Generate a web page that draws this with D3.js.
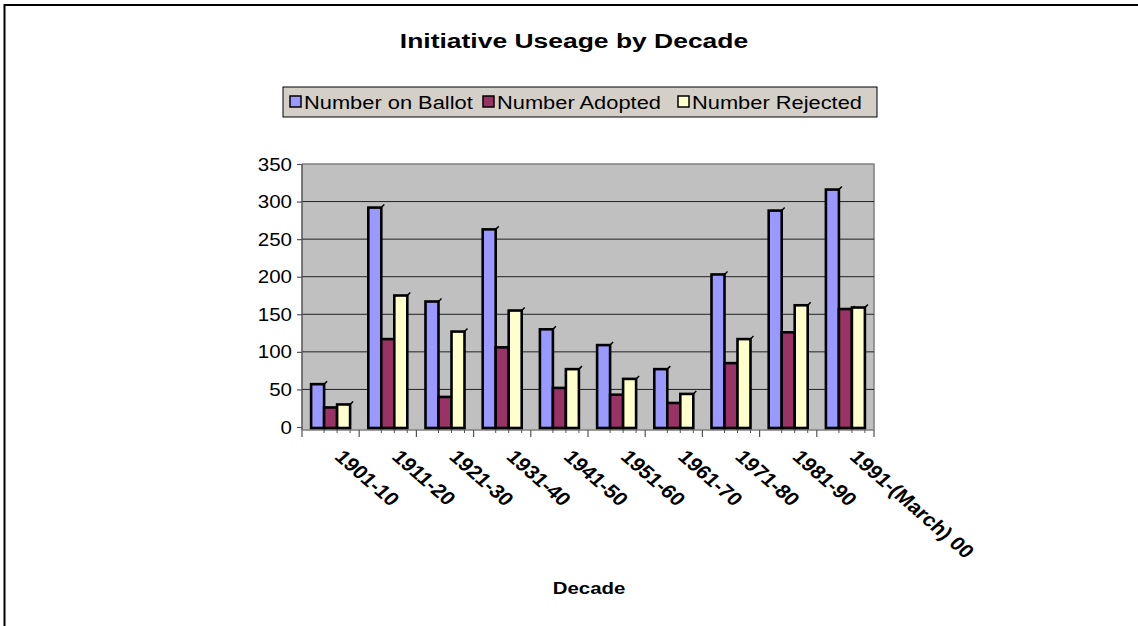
<!DOCTYPE html>
<html>
<head>
<meta charset="utf-8">
<script src="https://cdn.jsdelivr.net/npm/d3@7"></script>
<style>
  html, body { margin: 0; padding: 0; background: #fff; }
  svg { display: block; font-family: Arial, "Liberation Sans", sans-serif; }
</style>
</head>
<body>
<svg id="chart" width="1138" height="626"></svg>
<script>
// Initiative counts per decade
const categories = ["1901-10", "1911-20", "1921-30", "1931-40", "1941-50",
                    "1951-60", "1961-70", "1971-80", "1981-90", "1991-(March) 00"];
const seriesNames = ["Number on Ballot", "Number Adopted", "Number Rejected"];
const onBallot = [57, 292, 167, 263, 130, 109, 77, 203, 288, 316];
const adopted  = [26, 117, 40, 106, 52, 43, 32, 85, 126, 157];
const rejected = [30, 175, 127, 155, 77, 64, 44, 117, 162, 159];
const yTicks = [0, 50, 100, 150, 200, 250, 300, 350];
const seriesColors = ["#9999FF", "#993366", "#FFFFCC"];

const seriesValues = [onBallot, adopted, rejected];

const svg = d3.select("#chart");

// text is drawn slightly widened, as in the original sheet
function wideText(parent, px, py, sx, str, size, bold, anchor) {
  return parent.append("text")
    .attr("transform", `translate(${px},${py}) scale(${sx},1)`)
    .attr("text-anchor", anchor || "start")
    .attr("font-size", size)
    .attr("font-weight", bold ? "bold" : "normal")
    .text(str);
}

// outer frame (left and top edges)
svg.append("path")
  .attr("d", "M4.5,626 V5 H1138")
  .attr("fill", "none").attr("stroke", "#000").attr("stroke-width", 2);

// title
wideText(svg, 574, 48, 1.26, "Initiative Useage by Decade", 21, true, "middle");

// plot geometry
const plotL = 302, plotR = 874, plotT = 164, floorY = 430;
const x = d3.scaleBand().domain(categories).range([plotL, plotR]);
const y = d3.scaleLinear().domain([0, 350]).range([427, plotT]);
const groupW = 39;
const xs = d3.scaleBand().domain(seriesNames).range([0, groupW]);

// plot background
svg.append("rect")
  .attr("x", plotL).attr("y", plotT)
  .attr("width", plotR - plotL).attr("height", floorY - plotT)
  .attr("fill", "#C0C0C0");
svg.append("path")
  .attr("d", `M${plotL},${plotT} H${plotR} V${floorY}`)
  .attr("fill", "none").attr("stroke", "#808080").attr("stroke-width", 1.5);

// gridlines
svg.append("g").selectAll("line")
  .data(yTicks.filter(t => t > 0 && t < 350))
  .join("line")
  .attr("x1", plotL).attr("x2", plotR)
  .attr("y1", d => y(d)).attr("y2", d => y(d))
  .attr("stroke", "#222").attr("stroke-width", 1);

// floor front edge
svg.append("line")
  .attr("x1", plotL).attr("x2", plotR)
  .attr("y1", floorY).attr("y2", floorY)
  .attr("stroke", "#808080").attr("stroke-width", 1.5);

// y axis
const yAxis = d3.axisLeft(y).tickValues(yTicks).tickSize(5).tickFormat("");
const yg = svg.append("g").attr("transform", `translate(${plotL},0)`).call(yAxis);
yg.select(".domain").remove();
yg.append("line").attr("x1", 0).attr("x2", 0).attr("y1", plotT).attr("y2", floorY)
  .attr("stroke", "#555").attr("stroke-width", 1.5);
yg.selectAll(".tick line").attr("stroke", "#555").attr("stroke-width", 1.2);
yTicks.forEach(t => {
  wideText(svg, 292, y(t) + 6.5, 1.14, String(t), 18, false, "end");
});

// bars
const bars = svg.append("g");
categories.forEach((c, i) => {
  const gx = x(c) + (x.bandwidth() - groupW) / 2;
  seriesNames.forEach((s, j) => {
    const v = seriesValues[j][i];
    const bx = gx + xs(s);
    const bw = xs.bandwidth();
    const g = bars.append("g");
    g.append("rect")
      .attr("x", bx).attr("y", y(v))
      .attr("width", bw).attr("height", y(0) + 1 - y(v))
      .attr("fill", seriesColors[j])
      .attr("stroke", "#000").attr("stroke-width", 2.6);
    // depth edge at the top right corner
    g.append("line")
      .attr("x1", bx + bw).attr("y1", y(v))
      .attr("x2", bx + bw + 3).attr("y2", y(v) - 3)
      .attr("stroke", "#000").attr("stroke-width", 1.5);
    // depth edge at the base
    g.append("line")
      .attr("x1", bx + bw).attr("y1", floorY)
      .attr("x2", bx + bw).attr("y2", floorY + 3)
      .attr("stroke", "#555").attr("stroke-width", 1);
  });
});

// x axis ticks at category boundaries
const xb = categories.map(c => x(c)).concat([plotR]);
svg.append("g").selectAll("line")
  .data(xb).join("line")
  .attr("x1", d => d).attr("x2", d => d)
  .attr("y1", floorY).attr("y2", floorY + 7)
  .attr("stroke", "#555").attr("stroke-width", 1.2);

// category labels, slanted
svg.append("g").selectAll("text")
  .data(categories).join("text")
  .attr("transform", d => `translate(${x(d) + x.bandwidth() / 2 + 3},${458}) scale(1.15,1) rotate(45)`)
  .attr("font-size", 19).attr("font-weight", "bold")
  .text(d => d);

// axis title
wideText(svg, 589, 594, 1.2, "Decade", 17, true, "middle");

// legend
const lg = svg.append("g");
lg.append("rect")
  .attr("x", 283).attr("y", 87).attr("width", 594).attr("height", 30)
  .attr("fill", "#D4D0C8").attr("stroke", "#000").attr("stroke-width", 1);
const legendX = [290, 483, 678];
seriesNames.forEach((s, j) => {
  lg.append("rect")
    .attr("x", legendX[j]).attr("y", 96).attr("width", 11).attr("height", 11)
    .attr("fill", seriesColors[j]).attr("stroke", "#000").attr("stroke-width", 1.5);
  wideText(lg, legendX[j] + 14, 108.5, 1.15, s, 19, false, "start");
});
</script>
</body>
</html>
